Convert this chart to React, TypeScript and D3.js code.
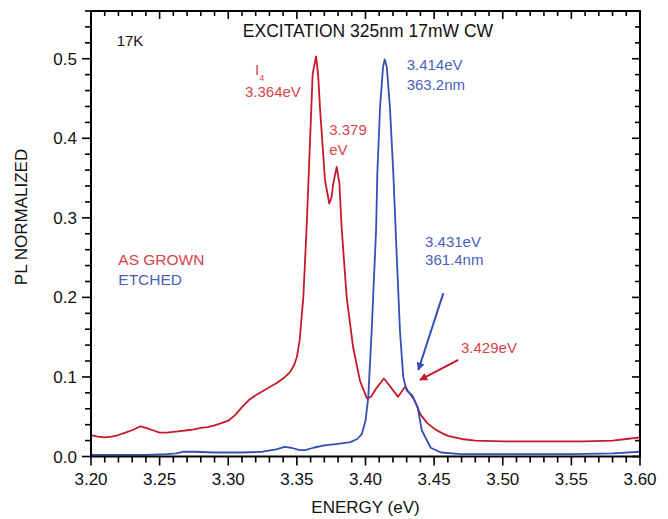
import React from "react";
import * as d3 from "d3";

// PL spectra at 17 K: energy (eV) vs. normalized intensity
const grownEnergy = [
  3.2, 3.205, 3.21, 3.215, 3.22, 3.225, 3.23, 3.236, 3.24, 3.245, 3.25, 3.255, 3.26, 3.265,
  3.27, 3.275, 3.28, 3.285, 3.29, 3.295, 3.3, 3.305, 3.31, 3.315, 3.32, 3.325, 3.33, 3.335,
  3.34, 3.345, 3.348, 3.35, 3.352, 3.3547, 3.357, 3.359, 3.3615, 3.364, 3.3655, 3.3668,
  3.3705, 3.3736, 3.3753, 3.3765, 3.379, 3.381, 3.3826, 3.3863, 3.391, 3.396, 3.401, 3.404,
  3.408, 3.4134, 3.418, 3.4237, 3.4265, 3.429, 3.431, 3.4353, 3.44, 3.445, 3.45, 3.455,
  3.46, 3.47, 3.48, 3.5, 3.52, 3.54, 3.56, 3.58, 3.59, 3.6,
];
const grownPL = [
  0.027, 0.025, 0.024, 0.025, 0.027, 0.03, 0.033, 0.038, 0.036, 0.033, 0.03, 0.03, 0.031, 0.032,
  0.033, 0.034, 0.036, 0.037, 0.039, 0.042, 0.045, 0.052, 0.062, 0.071, 0.077, 0.082, 0.087, 0.092,
  0.098, 0.106, 0.115, 0.125, 0.146, 0.2, 0.284, 0.37, 0.481, 0.503, 0.48, 0.439,
  0.347, 0.318, 0.326, 0.343, 0.364, 0.343, 0.288, 0.2, 0.137, 0.095, 0.073, 0.075,
  0.086, 0.098, 0.088, 0.075, 0.082, 0.088, 0.082, 0.072, 0.053, 0.042, 0.035, 0.03,
  0.026, 0.022, 0.02, 0.019, 0.019, 0.019, 0.019, 0.02, 0.022, 0.024,
];

const etchedEnergy = [
  3.2, 3.22, 3.24, 3.255, 3.262, 3.268, 3.275, 3.29, 3.31, 3.325, 3.335, 3.341, 3.346, 3.352,
  3.356, 3.362, 3.37, 3.38, 3.389, 3.394, 3.3973, 3.4, 3.402, 3.4045, 3.4077, 3.4086, 3.4106,
  3.4128, 3.414, 3.4155, 3.4178, 3.4203, 3.4222, 3.4251, 3.4275, 3.43, 3.434, 3.438, 3.441,
  3.4475, 3.455, 3.47, 3.5, 3.55, 3.58, 3.6,
];
const etchedPL = [
  0.002, 0.002, 0.002, 0.003, 0.004, 0.006, 0.006, 0.005, 0.005, 0.006, 0.009, 0.012, 0.011, 0.008,
  0.008, 0.011, 0.014, 0.016, 0.018, 0.022, 0.028, 0.045, 0.074, 0.158, 0.284, 0.355, 0.439,
  0.49, 0.499, 0.49, 0.439, 0.355, 0.275, 0.158, 0.1, 0.083, 0.077, 0.062, 0.033,
  0.011, 0.005, 0.003, 0.003, 0.003, 0.004, 0.006,
];

const xTicks = [3.2, 3.25, 3.3, 3.35, 3.4, 3.45, 3.5, 3.55, 3.6];
const xTickLabels = ["3.20", "3.25", "3.30", "3.35", "3.40", "3.45", "3.50", "3.55", "3.60"];
const yTicks = [0, 0.1, 0.2, 0.3, 0.4, 0.5];
const yTickLabels = ["0.0", "0.1", "0.2", "0.3", "0.4", "0.5"];

const RED = "#c8182c";
const BLUE = "#3550b4";
const RED_TEXT = "#d4444a";
const BLUE_TEXT = "#4a5ebc";
const FONT = "'Liberation Sans', Arial, Helvetica, sans-serif";

const W = 668;
const H = 519;
const left = 91;
const right = 640;
const top = 11;
const bottom = 456.5;

export default function App() {
  const x = d3.scaleLinear().domain([3.2, 3.6]).range([left, right]);
  const y = d3.scaleLinear().domain([0, 0.56]).range([bottom, top]);

  const line = d3
    .line<[number, number]>()
    .x((d) => x(d[0]))
    .y((d) => y(d[1]))
    .curve(d3.curveLinear);

  const grown = grownEnergy.map((e, i) => [e, grownPL[i]] as [number, number]);
  const etched = etchedEnergy.map((e, i) => [e, etchedPL[i]] as [number, number]);

  const xMinor = d3.range(0, 41).map((i) => 3.2 + i * 0.01);
  const yMinor = d3.range(0, 29).map((i) => i * 0.02).filter((v) => v <= 0.5601);

  const isMajorX = (v: number) => Math.abs(Math.round(v * 20) - v * 20) < 1e-6;
  const isMajorY = (v: number) => Math.abs(Math.round(v * 10) - v * 10) < 1e-6;

  const tickStroke = 1.6;

  return (
    <svg
      width={W}
      height={H}
      style={{ position: "absolute", left: 0, top: 0, background: "#fff" }}
      fontFamily={FONT}
    >
      <defs>
        <marker id="arrowBlue" viewBox="0 0 10 10" refX="9" refY="5" markerWidth="4" markerHeight="4" orient="auto">
          <path d="M0,0 L10,5 L0,10 z" fill={BLUE} />
        </marker>
        <marker id="arrowRed" viewBox="0 0 10 10" refX="9" refY="5" markerWidth="4" markerHeight="4" orient="auto">
          <path d="M0,0 L10,5 L0,10 z" fill={RED} />
        </marker>
      </defs>

      {/* bottom ticks (outward) */}
      {xMinor.map((v, i) => (
        <line key={"xb" + i} x1={x(v)} x2={x(v)} y1={bottom} y2={bottom + (isMajorX(v) ? 9 : 6)} stroke="#000" strokeWidth={tickStroke} />
      ))}
      {/* top ticks (inward) */}
      {xMinor.map((v, i) => (
        <line key={"xt" + i} x1={x(v)} x2={x(v)} y1={top} y2={top + (isMajorX(v) ? 8 : 5)} stroke="#000" strokeWidth={tickStroke} />
      ))}
      {/* left ticks (outward) */}
      {yMinor.map((v, i) => (
        <line key={"yl" + i} x1={left} x2={left - (isMajorY(v) ? 9 : 6)} y1={y(v)} y2={y(v)} stroke="#000" strokeWidth={tickStroke} />
      ))}
      {/* right ticks (inward) */}
      {yMinor.map((v, i) => (
        <line key={"yr" + i} x1={right} x2={right - (isMajorY(v) ? 8 : 5)} y1={y(v)} y2={y(v)} stroke="#000" strokeWidth={tickStroke} />
      ))}

      {/* curves */}
      <path d={line(grown) ?? ""} fill="none" stroke={RED} strokeWidth={1.8} strokeLinejoin="round" />
      <path d={line(etched) ?? ""} fill="none" stroke={BLUE} strokeWidth={1.8} strokeLinejoin="round" />

      {/* frame */}
      <rect x={left} y={top} width={right - left} height={bottom - top} fill="none" stroke="#000" strokeWidth={2} />

      {/* tick labels */}
      {xTicks.map((v, i) => (
        <text key={"xl" + i} x={x(v)} y={bottom + 28.5} textAnchor="middle" fontSize={17} fill="#111">
          {xTickLabels[i]}
        </text>
      ))}
      {yTicks.map((v, i) => (
        <text key={"yl" + i} x={left - 14} y={y(v) + 6} textAnchor="end" fontSize={17} fill="#111">
          {yTickLabels[i]}
        </text>
      ))}

      {/* axis titles */}
      <text x={(left + right) / 2} y={513} textAnchor="middle" fontSize={17} fill="#111">
        ENERGY (eV)
      </text>
      <text transform={`translate(27,217) rotate(-90)`} textAnchor="middle" fontSize={17} fill="#111">
        PL NORMALIZED
      </text>

      {/* header labels */}
      <text x={x(3.4018)} y={y(0.5277)} textAnchor="middle" fontSize={17.5} fill="#111">
        EXCITATION 325nm 17mW CW
      </text>
      <text x={x(3.2187)} y={y(0.5155)} fontSize={15} fill="#111">
        17K
      </text>

      {/* legend */}
      <text x={x(3.2199)} y={y(0.2409)} fontSize={15.5} fill={RED_TEXT}>
        AS GROWN
      </text>
      <text x={x(3.2199)} y={y(0.2157)} fontSize={15.5} fill={BLUE_TEXT}>
        ETCHED
      </text>

      {/* peak annotations: as grown */}
      <text x={x(3.3195)} y={y(0.48)} fontSize={15} fill={RED_TEXT}>
        I
        <tspan fontSize={9} dy={6}>4</tspan>
      </text>
      <text x={x(3.3122)} y={y(0.4522)} fontSize={15} fill={RED_TEXT}>
        3.364eV
      </text>
      <text x={x(3.3736)} y={y(0.4044)} fontSize={15} fill={RED_TEXT}>
        3.379
      </text>
      <text x={x(3.3736)} y={y(0.3792)} fontSize={15} fill={RED_TEXT}>
        eV
      </text>
      <text x={x(3.4696)} y={y(0.1302)} fontSize={15} fill={RED_TEXT}>
        3.429eV
      </text>
      <line
        x1={x(3.4676)} y1={y(0.1214)} x2={x(3.4397)} y2={y(0.0962)}
        stroke={RED} strokeWidth={2} markerEnd="url(#arrowRed)"
      />

      {/* peak annotations: etched */}
      <text x={x(3.43)} y={y(0.4862)} fontSize={15} fill={BLUE_TEXT}>
        3.414eV
      </text>
      <text x={x(3.43)} y={y(0.461)} fontSize={15} fill={BLUE_TEXT}>
        363.2nm
      </text>
      <text x={x(3.4434)} y={y(0.2635)} fontSize={15} fill={BLUE_TEXT}>
        3.431eV
      </text>
      <text x={x(3.4434)} y={y(0.2409)} fontSize={15} fill={BLUE_TEXT}>
        361.4nm
      </text>
      <line
        x1={x(3.4567)} y1={y(0.2053)} x2={x(3.4385)} y2={y(0.1088)}
        stroke={BLUE} strokeWidth={2} markerEnd="url(#arrowBlue)"
      />
    </svg>
  );
}
